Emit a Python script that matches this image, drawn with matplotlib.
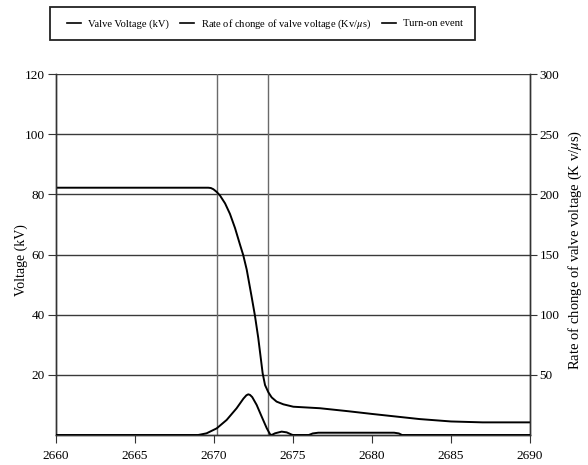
import matplotlib
matplotlib.use("Agg")
import matplotlib.pyplot as plt
from matplotlib.lines import Line2D
from matplotlib.patches import Rectangle

plt.rcParams['font.family'] = ['Liberation Serif', 'DejaVu Serif']
plt.rcParams['mathtext.fontset'] = 'stix'

# Valve voltage (kV) vs time
t_volt = [2660, 2669.5, 2669.64, 2669.8, 2669.96, 2670.17, 2670.38, 2670.70, 2671.01, 2671.33,
          2671.65, 2671.85, 2672.07, 2672.38, 2672.59, 2672.80, 2673.08, 2673.23, 2673.44,
          2673.65, 2673.96, 2674.39, 2675.02, 2676.7, 2678.5, 2680.0, 2683.0, 2685.0,
          2687.0, 2690.0]
volt = [82.2, 82.2, 82.2, 82.1, 81.7, 80.8, 79.6, 77.0, 73.5, 68.8,
        63.2, 59.8, 55.0, 46.0, 39.7, 32.3, 20.5, 16.6, 14.2,
        12.5, 11.1, 10.2, 9.4, 8.9, 7.9, 7.0, 5.3, 4.5,
        4.2, 4.2]

# Rate of change of valve voltage (kV/us) vs time
t_rate = [2660, 2669.0, 2669.53, 2670.17, 2670.80, 2671.43, 2671.86, 2672.05, 2672.17, 2672.28,
          2672.42, 2672.70, 2673.02, 2673.34, 2673.55, 2673.65, 2673.86, 2674.28, 2674.6,
          2674.92, 2675.0, 2676.0, 2676.25, 2676.6, 2681.4, 2681.7, 2681.9, 2690]
rate = [0, 0, 1.4, 5.5, 12.5, 22.2, 30.2, 33.0, 33.8, 33.3,
        31.5, 25.0, 15.2, 5.6, 0.6, 0, 1.4, 2.8, 2.2,
        0.3, 0, 0, 1.3, 1.9, 1.9, 1.3, 0, 0]

# Turn-on events
events = [2670.2, 2673.4]

x_ticks = [2660, 2665, 2670, 2675, 2680, 2685, 2690]
y_ticks = [20, 40, 60, 80, 100, 120]
y2_ticks = [50, 100, 150, 200, 250, 300]

fig = plt.figure(figsize=(5.88, 4.65), dpi=100)
ax = fig.add_axes([56/588, 1-435/465, 474/588, 361/465])
ax2 = ax.twinx()

grid_c = '#3a3a3a'
for v in y_ticks:
    ax.axhline(v, color=grid_c, lw=1.0, zorder=1)
for e in events:
    ax.axvline(e, color='#6a6a6a', lw=1.0, zorder=1)

ax.plot(t_volt, volt, color='black', lw=1.4, zorder=3)
ax2.plot(t_rate, rate, color='black', lw=1.4, zorder=3)

ax.set_xlim(2660, 2690)
ax.set_ylim(0, 120)
ax2.set_ylim(0, 300)
ax.set_xticks(x_ticks)
ax.set_yticks(y_ticks)
ax2.set_yticks(y2_ticks)

for a in (ax, ax2):
    for s in a.spines.values():
        s.set_color('#333333')
        s.set_linewidth(1.0)
    a.spines['top'].set_visible(False)
ax.tick_params(axis='x', direction='out', length=6, pad=5, labelsize=9.5, color='#333333')
ax.tick_params(axis='y', direction='out', length=6, pad=2, labelsize=9.5, color='#333333')
ax2.tick_params(axis='y', direction='out', length=5, pad=2, labelsize=9.5, color='#333333')

fig.text(21/588, 1-260/465, 'Voltage (kV)', rotation=90, ha='center', va='center', fontsize=10)
fig.text(575/588, 1-250/465, r'Rate of chonge of valve voltage (K v/$\mu$s)', rotation=90,
         ha='center', va='center', fontsize=10.5)

# Legend
handles = [Line2D([], [], color='black', lw=1.2) for _ in range(3)]
labels = ['Valve Voltage (kV)', r'Rate of chonge of valve voltage (Kv/$\mu$s)', 'Turn-on event']
fig.legend(handles, labels, loc='center', ncol=3, frameon=False, fontsize=7.6,
           bbox_to_anchor=(265/588, 1-24/465), handlelength=1.3, handletextpad=0.65,
           columnspacing=1.1)
fig.patches.append(Rectangle((50/588, 1-40/465), 425/588, 33/465, transform=fig.transFigure,
                             fill=False, edgecolor='#222222', lw=1.3))

fig.savefig('out.png', dpi=100)
